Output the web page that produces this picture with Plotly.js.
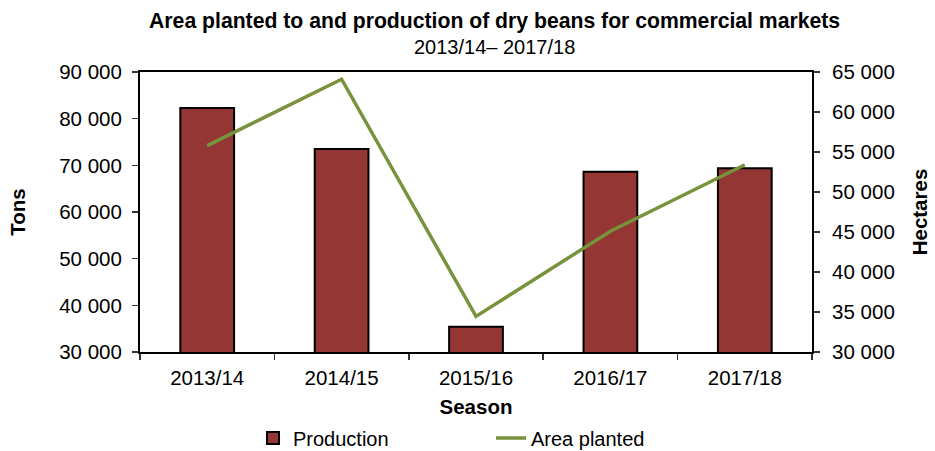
<!DOCTYPE html>
<html>
<head>
<meta charset="utf-8">
<script src="https://cdn.plot.ly/plotly-3.0.1.min.js"></script>
<style>
  html, body { margin: 0; padding: 0; background: #ffffff; }
  #chart { width: 935px; height: 451px; }
</style>
</head>
<body>
<div id="chart"></div>
<script>
// Dry beans for commercial markets, by season
const seasons = ['2013/14', '2014/15', '2015/16', '2016/17', '2017/18'];
const productionTons = [82300, 73500, 35400, 68600, 69400];
const areaHectares = [55800, 64100, 34450, 45100, 53400];

const FONT = 'Liberation Sans, Arial, sans-serif';
const TICK_SIZE = 20.5;

const production = {
  type: 'bar',
  name: 'Production',
  x: seasons,
  y: productionTons,
  yaxis: 'y',
  marker: { color: '#943634', line: { color: '#000000', width: 2 } },
  hoverinfo: 'x+y'
};

const area = {
  type: 'scatter',
  mode: 'lines',
  name: 'Area planted',
  x: seasons,
  y: areaHectares,
  yaxis: 'y2',
  line: { color: '#77933C', width: 3.5 },
  hoverinfo: 'x+y'
};

const layout = {
  width: 935,
  height: 451,
  paper_bgcolor: '#ffffff',
  plot_bgcolor: '#ffffff',
  separators: '. ',
  font: { family: FONT, size: TICK_SIZE, color: '#000000' },
  margin: { l: 140, r: 123, t: 72, b: 99, pad: 0 },
  bargap: 0.6,
  title: {
    text: '<b>Area planted to and production of dry beans for commercial markets</b>',
    font: { family: FONT, size: 21.2, color: '#000000' },
    xref: 'container', x: 0.529, xanchor: 'center',
    yref: 'container', y: 1 - 21 / 451, yanchor: 'middle'
  },
  annotations: [{
    text: '2013/14\u2013 2017/18',
    xref: 'paper', yref: 'paper',
    x: (494 - 140) / 672, y: 1 + (72 - 46.5) / 280,
    xanchor: 'center', yanchor: 'middle',
    showarrow: false,
    font: { family: FONT, size: 20, color: '#000000' }
  }],
  xaxis: {
    type: 'category',
    showline: true, linecolor: '#000000', linewidth: 2, mirror: true,
    ticks: 'outside', tickson: 'boundaries', ticklen: 6, tickwidth: 1.5, tickcolor: '#333333',
    ticklabelstandoff: 6,
    showgrid: false, zeroline: false,
    tickfont: { family: FONT, size: TICK_SIZE },
    title: { text: '<b>Season</b>', font: { family: FONT, size: 20.5 }, standoff: 17 },
    automargin: false
  },
  yaxis: {
    range: [30000, 90000], dtick: 10000, tick0: 30000,
    tickformat: ',d',
    showline: true, linecolor: '#000000', linewidth: 2,
    ticks: 'outside', ticklen: 6, tickwidth: 1.5, tickcolor: '#333333',
    ticklabelstandoff: 6,
    showgrid: false, zeroline: false,
    tickfont: { family: FONT, size: TICK_SIZE },
    title: { text: '<b>Tons</b>', font: { family: FONT, size: 20.5 }, standoff: 28 },
    automargin: false
  },
  yaxis2: {
    overlaying: 'y', side: 'right',
    range: [30000, 65000], dtick: 5000, tick0: 30000,
    tickformat: ',d',
    showline: true, linecolor: '#000000', linewidth: 2,
    ticks: 'outside', ticklen: 6, tickwidth: 1.5, tickcolor: '#333333',
    ticklabelstandoff: 8,
    showgrid: false, zeroline: false,
    tickfont: { family: FONT, size: TICK_SIZE },
    title: { text: '<b>Hectares</b>', font: { family: FONT, size: 20.5 }, standoff: 19 },
    automargin: false
  },
  showlegend: true,
  legend: {
    orientation: 'h',
    xref: 'container', x: 253 / 935, xanchor: 'left',
    yref: 'container', y: 1 - 438 / 451, yanchor: 'middle',
    entrywidth: 193,
    font: { family: FONT, size: 20, color: '#000000' },
    bgcolor: 'rgba(0,0,0,0)',
    traceorder: 'normal'
  }
};

Plotly.newPlot('chart', [production, area], layout, { displayModeBar: false, staticPlot: true });
</script>
</body>
</html>
